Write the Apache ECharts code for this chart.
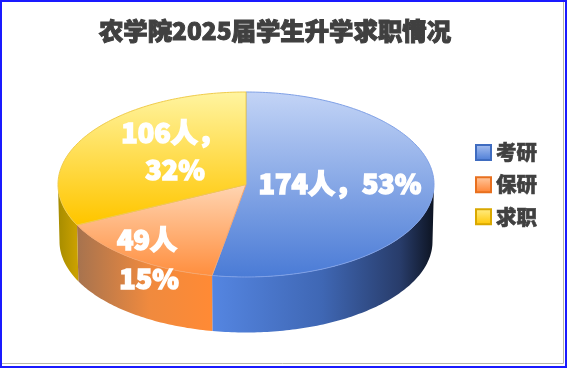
<!DOCTYPE html>
<html><head><meta charset="utf-8">
<style>html,body{margin:0;padding:0;background:#fff}#c{width:567px;height:368px}</style>
<script src="https://cdn.jsdelivr.net/npm/echarts@6/dist/echarts.min.js"></script>
</head><body><div id="c"></div>
<script>
const titleText = '农学院2025届学生升学求职情况';
const categories = ['考研', '保研', '求职'];
const counts = [174, 49, 106];
const labelLines = [['174人，53%'], ['49人', '15%'], ['106人，', '32%']];

const FONT = '"Noto Sans CJK SC","Noto Sans",sans-serif';
const TOP = { cx: 246, cy: 184.5, rx: 188, ry: 92.5 };
const BASE = { cx: 246, cy: 241.5, rx: 186.5, ry: 91 };
const labelPos = [[[340, 184]], [[147, 240], [149, 279]], [[173, 133], [175, 170]]];
const G = echarts.graphic.LinearGradient;
const topFill = [
  new G(0, 92, 0, 277, [{offset:0,color:'#C3D4F6'},{offset:1,color:'#4A7BD6'}], true),
  new G(0, 183, 0, 277, [{offset:0,color:'#FFD6B4'},{offset:1,color:'#FF8D3C'}], true),
  new G(0, 92, 0, 222, [{offset:0,color:'#FFF4A0'},{offset:1,color:'#FFC600'}], true)
];
const wallFill = [
  new G(210, 0, 434, 0, [{offset:0,color:'#5586E2'},{offset:0.5,color:'#3F67B4'},{offset:0.85,color:'#283C6A'},{offset:1,color:'#0D1422'}], true),
  new G(75, 0, 210, 0, [{offset:0,color:'#A4724F'},{offset:0.55,color:'#F08A3E'},{offset:1,color:'#FF8A35'}], true),
  new G(58, 0, 76, 0, [{offset:0,color:'#A68C00'},{offset:1,color:'#C9A000'}], true)
];
const edge = ['#7FA0E6', '#F5A66E', '#F0CC4C'];
const legendFill = [
  new G(0,0,0,1,[{offset:0,color:'#A9C1F0'},{offset:1,color:'#4A7BD6'}]),
  new G(0,0,0,1,[{offset:0,color:'#FFCBA4'},{offset:1,color:'#FF8130'}]),
  new G(0,0,0,1,[{offset:0,color:'#FFEE8A'},{offset:1,color:'#FFC600'}])
];
const legendEdge = ['#3F6CC0', '#E8701F', '#D9A800'];

const total = counts.reduce((a, b) => a + b, 0);
const pt = (e, deg) => {
  const t = deg * Math.PI / 180;
  return [e.cx + e.rx * Math.sin(t), e.cy - e.ry * Math.cos(t)];
};
const arc = (e, a, b) => {
  const out = [];
  const n = Math.max(2, Math.ceil(Math.abs(b - a)));
  for (let i = 0; i <= n; i++) out.push(pt(e, a + (b - a) * i / n));
  return out;
};

function makeRender(idx) {
  return function (params, api) {
    const v = api.value(0);
    const before = counts.slice(0, idx).reduce((a, b) => a + b, 0);
    const a0 = before / total * 360;
    const a1 = a0 + v / total * 360;
    const children = [];
    const wa = Math.max(a0, 90), wb = Math.min(a1, 270);
    if (wb > wa) {
      children.push({
        type: 'polygon',
        shape: { points: arc(TOP, wa, wb).concat(arc(BASE, wb, wa)) },
        style: { fill: wallFill[idx] }
      });
    }
    children.push({
      type: 'polygon',
      shape: { points: [[TOP.cx, TOP.cy]].concat(arc(TOP, a0, a1)) },
      style: { fill: topFill[idx], stroke: edge[idx], lineWidth: 1 }
    });
    return { type: 'group', children };
  };
}
function labelRender(idx) {
  return function () {
    return { type: 'group', children: labelLines[idx].map((t, i) => ({
      type: 'text',
      style: {
        text: t, x: labelPos[idx][i][0], y: labelPos[idx][i][1],
        fill: '#fff', stroke: '#fff', lineWidth: 1.5,
        font: '900 27px ' + FONT, textAlign: 'center', textVerticalAlign: 'middle'
      }
    })) };
  };
}

const series = categories.map((name, i) => ({
  name, type: 'custom', coordinateSystem: 'none', silent: true,
  data: [[counts[i]]], renderItem: makeRender(i), z: 2 + i,
  itemStyle: { color: legendFill[i], borderColor: legendEdge[i], borderWidth: 1 }
})).concat(categories.map((name, i) => ({
  name: name + '标签', type: 'custom', coordinateSystem: 'none', silent: true,
  data: [[counts[i]]], renderItem: labelRender(i), z: 10
})));

const chart = echarts.init(document.getElementById('c'), null, { renderer: 'canvas' });
chart.setOption({
  animation: false,
  backgroundColor: '#fff',
  title: {
    text: titleText, left: 270, top: 14, textAlign: 'center',
    textStyle: { fontFamily: FONT, fontSize: 24.4, fontWeight: 900, color: '#404040', textBorderColor: '#404040', textBorderWidth: 1 }
  },
  legend: {
    data: categories, orient: 'vertical', left: 475, top: 142, itemWidth: 15, itemHeight: 15, itemGap: 11,
    icon: 'rect', selectedMode: false, padding: 0,
    textStyle: { fontFamily: FONT, fontSize: 20.5, fontWeight: 900, color: '#404040', textBorderColor: '#404040', textBorderWidth: 0.6, padding: [0, 0, 0, 0] }
  },
  graphic: [
    { type: 'rect', silent: true, z: 100, shape: { x: 1, y: 1, width: 565, height: 366 }, style: { fill: 'none', stroke: '#1A1AFF', lineWidth: 2 } },
    { type: 'polyline', silent: true, z: 100, shape: { points: [[563.5, 2], [563.5, 363.5], [2, 363.5]] }, style: { fill: 'none', stroke: '#B8B8A8', lineWidth: 1 } }
  ],
  series
});
</script></body></html>
